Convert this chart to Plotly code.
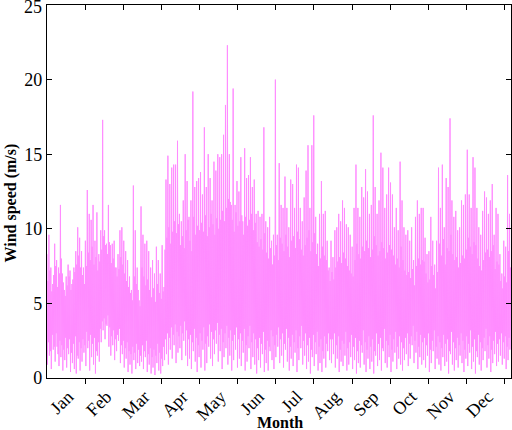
import numpy as np
import plotly.graph_objects as go

# hourly wind speed over one year left to right.
# each slot: local high, local low, top of the dense core, bottom of the core
peaks = [
    8.3, 9.6, 7.4, 6.3, 9.0, 7.9, 7.4, 11.6, 7.0, 5.9,
    6.8, 7.6, 7.2, 6.3, 7.4, 8.5, 10.1, 9.4, 8.5, 7.4,
    9.2, 12.6, 11.0, 10.6, 11.6, 9.2, 11.1, 8.3, 9.9, 17.3,
    9.9, 9.0, 11.6, 8.9, 9.0, 9.2, 7.4, 8.3, 9.9, 10.1,
    9.2, 8.5, 7.9, 6.8, 5.9, 12.9, 9.9, 7.4, 5.2,
    11.5, 9.6, 9.0, 9.2, 8.5, 7.4, 7.9, 7.0, 8.8, 7.9,
    7.0, 8.9, 6.1, 13.3, 14.9, 13.0, 14.1, 14.3, 14.3, 15.9,
    11.0, 10.5, 11.9, 15.0, 13.2, 10.8, 11.9, 19.2, 12.8, 13.2,
    13.4, 13.8, 12.3, 16.8, 12.8, 15.0, 13.4, 11.9, 14.5, 13.9,
    15.0, 14.8, 15.0, 16.3, 18.3, 22.3, 15.0, 11.6, 19.4, 11.6,
    13.2,
    12.5, 14.8, 10.5, 15.4, 13.4, 13.6, 14.8, 12.8, 13.3, 11.0,
    11.2, 10.8, 11.0, 16.8, 10.5, 10.1, 10.8, 9.2, 9.6, 20.0,
    9.6, 14.4, 11.6, 11.4, 13.5, 11.4, 10.1, 13.3, 13.0, 11.4,
    14.3, 14.1, 11.4, 10.5, 12.1, 13.9, 15.6, 11.4, 15.6, 17.6,
    10.8, 9.0, 11.0, 13.2, 11.0, 11.2, 9.2, 7.4,
    9.2, 8.1, 9.9, 10.1, 11.0, 10.5, 11.9, 11.4, 10.3, 10.1,
    9.6, 8.8, 11.4, 14.3, 11.4, 10.8, 12.8, 12.1, 14.0, 12.5,
    11.0, 11.6, 17.6, 12.8, 11.0, 11.9, 15.1, 14.1, 11.4, 12.3,
    14.1, 13.1, 12.3, 10.1, 11.4, 9.9, 14.5, 11.9, 10.1, 9.6,
    9.9, 9.2, 10.1, 7.9, 10.8, 11.9, 11.0, 11.4,
    11.4, 9.4, 8.3, 8.5, 10.8, 9.2, 7.6, 9.2, 14.1, 11.4,
    14.3, 10.1, 13.4, 12.8, 17.4, 11.9, 10.8, 11.2, 9.9, 10.1,
    11.9, 11.6, 12.3, 15.3, 12.3, 11.4, 14.8, 14.1, 11.4, 10.1,
    9.6, 11.2, 12.5, 12.1, 11.0, 11.9, 13.0, 9.6, 11.4, 11.0,
    8.3, 7.0, 9.2, 8.8, 13.6, 11.0,
]

troughs = [
    0.9, 1.5, 0.6, 1.9, 1.1, 2.1, 0.8, 1.4, 0.5, 1.2,
    0.7, 1.6, 0.4, 1.0, 0.6, 0.3, 1.3, 0.5, 1.1, 1.7,
    0.8, 2.0, 0.5, 1.4, 0.9, 0.3, 1.5, 1.1, 2.4, 3.2,
    2.6, 3.5, 2.1, 1.5, 2.2, 1.2, 1.8, 2.5, 1.0, 1.6,
    0.7, 1.3, 0.4, 0.9, 0.3, 1.2, 0.6, 1.0, 0.8,
    1.1, 0.6, 1.4, 0.4, 0.9, 0.3, 0.7, 0.2, 1.0, 0.5,
    0.3, 0.8, 1.2, 1.6, 0.9, 1.9, 1.3, 2.2, 1.0, 1.7,
    2.0, 1.2, 2.5, 1.5, 0.8, 1.3, 0.6, 1.8, 1.1, 0.4,
    1.4, 0.7, 1.9, 0.5, 1.0, 2.1, 1.3, 0.8, 1.6, 2.3,
    1.1, 1.8, 0.6, 1.4, 2.0, 0.9, 1.5, 0.5, 1.2, 1.9,
    0.7,
    1.3, 0.8, 1.7, 0.5, 1.1, 2.0, 0.6, 1.4, 0.9, 0.3,
    1.2, 0.7, 1.6, 0.4, 1.0, 0.5, 1.8, 1.2, 0.6, 1.4,
    2.1, 1.0, 1.5, 0.7, 1.9, 1.1, 0.5, 1.3, 0.8, 1.7,
    0.4, 1.2, 2.0, 0.9, 1.5, 0.6, 1.1, 0.3, 1.4, 0.8,
    1.6, 0.5, 1.0, 0.4, 1.3, 0.7, 1.8, 1.2,
    1.0, 1.6, 0.7, 1.3, 0.4, 1.1, 0.8, 1.5, 0.5, 0.9,
    1.4, 0.6, 1.2, 0.3, 1.0, 0.7, 1.7, 0.9, 0.4, 1.3,
    0.6, 1.1, 0.3, 1.5, 0.8, 1.2, 0.5, 1.8, 1.0, 0.7,
    1.4, 0.4, 1.1, 1.7, 0.6, 1.3, 0.9, 0.5, 1.2, 1.6,
    0.8, 1.3, 2.2, 1.0, 1.7, 0.6, 1.4, 0.9,
    1.2, 0.7, 1.5, 0.4, 1.0, 1.8, 0.6, 1.3, 0.9, 0.5,
    1.4, 0.8, 1.1, 0.3, 1.6, 0.9, 0.5, 1.2, 0.7, 1.5,
    1.0, 0.4, 1.3, 0.8, 1.7, 0.6, 1.1, 0.3, 1.4, 0.9,
    0.5, 1.2, 1.8, 0.7, 1.3, 0.4, 1.0, 1.6, 0.8, 1.1,
    1.5, 0.9, 1.3, 0.6, 1.2, 1.9,
]

core_tops = [
    6.5, 7.2, 5.8, 6.9, 7.5, 6.1, 7.0, 8.0, 6.4, 5.5,
    6.2, 6.8, 5.9, 6.6, 7.1, 7.6, 8.2, 7.4, 6.9, 6.3,
    7.5, 8.4, 7.9, 8.8, 7.6, 8.1, 7.2, 7.8, 8.6, 9.5,
    8.9, 8.3, 9.1, 7.7, 8.0, 7.4, 6.8, 7.3, 8.1, 7.6,
    7.0, 6.5, 6.1, 5.7, 5.2, 6.8, 6.3, 5.9, 4.8,
    7.4, 6.8, 6.2, 6.6, 5.9, 5.4, 6.0, 5.1, 6.3, 5.7,
    5.3, 5.8, 8.6, 9.4, 10.1, 9.0, 9.8, 10.5, 9.7, 10.3,
    8.9, 9.5, 8.7, 9.9, 10.6, 9.2, 8.5, 10.8, 9.6, 10.2,
    9.9, 10.4, 9.8, 10.9, 9.5, 10.1, 11.0, 10.3, 9.6, 10.7,
    10.0, 10.6, 11.2, 10.5, 11.4, 12.0, 11.8, 10.6, 9.8, 11.1,
    10.2,
    10.5, 10.9, 9.6, 10.8, 10.2, 10.6, 11.0, 9.9, 10.4, 9.1,
    8.8, 9.3, 8.6, 9.7, 8.4, 8.0, 8.7, 7.6, 8.2, 8.9,
    7.9, 9.4, 9.0, 8.5, 9.6, 8.8, 8.1, 9.2, 9.5, 8.7,
    9.8, 9.3, 8.6, 8.2, 8.9, 9.4, 9.9, 8.5, 9.1, 9.7,
    8.3, 7.5, 8.0, 8.8, 8.2, 7.9, 7.2, 6.5,
    7.1, 6.6, 7.4, 7.8, 8.1, 7.7, 8.4, 8.0, 7.5, 7.2,
    7.0, 6.8, 7.9, 9.0, 8.3, 8.0, 8.8, 8.5, 9.2, 8.7,
    8.1, 8.6, 9.5, 8.9, 8.2, 8.5, 9.1, 8.7, 8.0, 8.4,
    8.9, 8.6, 8.2, 7.6, 8.0, 7.4, 8.8, 7.9, 7.2, 6.9,
    7.1, 6.7, 7.3, 6.2, 7.5, 8.0, 7.6, 7.9,
    7.8, 7.0, 6.4, 6.6, 7.5, 6.9, 6.0, 7.1, 9.0, 8.2,
    9.3, 7.6, 8.7, 8.5, 9.6, 8.3, 7.9, 8.1, 7.4, 7.7,
    8.2, 8.0, 8.6, 9.4, 8.8, 8.3, 9.1, 8.9, 8.0, 7.5,
    7.2, 7.9, 8.4, 8.6, 8.1, 8.5, 8.9, 7.3, 7.8, 7.6,
    6.5, 6.0, 6.8, 6.4, 8.5, 7.4,
]

core_bottoms = [
    2.4, 1.8, 2.9, 2.1, 3.0, 1.6, 2.5, 2.2, 1.9, 2.7,
    2.0, 2.6, 1.7, 2.3, 2.8, 1.5, 2.4, 2.0, 2.6, 2.2,
    3.1, 2.5, 2.9, 2.3, 2.7, 1.8, 2.4, 3.3, 3.8, 4.0,
    3.6, 4.2, 3.4, 2.8, 3.2, 2.6, 2.9, 3.3, 2.2, 2.5,
    2.0, 2.4, 1.8, 1.6, 2.1, 1.7, 2.3, 1.9, 1.5,
    2.2, 1.8, 2.5, 1.6, 2.0, 1.4, 1.9, 1.5, 2.3, 1.7,
    1.3, 2.1, 2.6, 3.0, 2.7, 3.4, 2.9, 3.6, 3.1, 2.8,
    3.5, 3.0, 3.8, 3.2, 2.6, 2.9, 2.4, 3.3, 2.7, 2.2,
    3.0, 2.5, 3.4, 2.3, 2.8, 3.6, 3.1, 2.6, 3.2, 3.7,
    2.9, 3.3, 2.4, 3.0, 3.5, 2.7, 3.2, 2.5, 2.9, 3.4,
    2.6,
    3.0, 2.5, 3.3, 2.2, 2.8, 3.5, 2.4, 3.0, 2.6, 2.0,
    2.7, 2.3, 3.1, 1.9, 2.5, 2.1, 3.2, 2.8, 2.2, 2.9,
    3.4, 2.6, 3.0, 2.3, 3.3, 2.7, 2.1, 2.9, 2.4, 3.2,
    2.0, 2.8, 3.5, 2.5, 3.0, 2.2, 2.7, 1.9, 2.9, 2.4,
    3.1, 2.1, 2.6, 1.8, 2.8, 2.3, 3.0, 2.6,
    2.6, 3.0, 2.2, 2.8, 1.9, 2.5, 2.3, 3.1, 2.0, 2.4,
    2.9, 2.1, 2.7, 1.8, 2.5, 2.2, 3.2, 2.4, 1.9, 2.8,
    2.1, 2.6, 1.8, 3.0, 2.3, 2.7, 2.0, 3.3, 2.5, 2.2,
    2.9, 1.9, 2.6, 3.1, 2.1, 2.8, 2.4, 2.0, 2.7, 3.0,
    2.3, 2.8, 3.5, 2.5, 3.1, 2.1, 2.9, 2.4,
    2.7, 2.2, 3.0, 1.9, 2.5, 3.2, 2.1, 2.8, 2.4, 2.0,
    2.9, 2.3, 2.6, 1.8, 3.1, 2.4, 2.0, 2.7, 2.2, 3.0,
    2.5, 1.9, 2.8, 2.3, 3.2, 2.1, 2.6, 1.8, 2.9, 2.4,
    2.0, 2.7, 3.3, 2.2, 2.8, 1.9, 2.5, 3.1, 2.3, 2.6,
    3.0, 2.4, 2.8, 2.1, 2.7, 3.2,
]

months = ['Jan', 'Feb', 'Mar', 'Apr', 'May', 'Jun',
          'Jul', 'Aug', 'Sep', 'Oct', 'Nov', 'Dec']
y_ticks = [0, 5, 10, 15, 20, 25]
month_hours = 720
year_hours = 8760

speed = []
for p, t, c, b in zip(peaks, troughs, core_tops, core_bottoms):
    speed += [p, t, c, b]
hours = np.linspace(0, year_hours - 1, len(speed))

font = 'Liberation Serif, Times New Roman, serif'
pink = '#ff8cff'

fig = go.Figure()
fig.add_trace(go.Scatter(
    x=hours, y=speed, mode='lines',
    line=dict(color=pink, width=1),
    showlegend=False, hoverinfo='skip'
))
# empty trace so the top axis (ticks only) gets drawn
fig.add_trace(go.Scatter(x=[None], y=[None], xaxis='x2', showlegend=False))

edges = [month_hours * k for k in range(1, 13)]
# rotated labels end a little right of the month middle
label_pos = [month_hours * k + 400 for k in range(12)]

# plotly drops the top label (it sits on the page edge), so it is written as an annotation
y_text = [str(v) for v in y_ticks[:-1]] + ['']

fig.update_layout(
    width=512, height=430,
    margin=dict(l=47, r=1, t=5, b=52),
    paper_bgcolor='white', plot_bgcolor='white',
    font=dict(family=font, size=18, color='black'),
    xaxis=dict(
        range=[0, year_hours], automargin=False,
        tickmode='array', tickvals=label_pos, ticktext=months,
        ticks='', tickangle=-45,
        tickfont=dict(family=font, size=18),
        minor=dict(tickmode='array', tickvals=edges, ticks='outside',
                   ticklen=5, tickwidth=1.2, tickcolor='black'),
        showline=True, linecolor='black', linewidth=1.2, mirror=True,
        showgrid=False, zeroline=False,
    ),
    xaxis2=dict(
        range=[0, year_hours], overlaying='x', side='top', anchor='y',
        automargin=False,
        tickmode='array', tickvals=edges, ticks='inside', ticklen=5,
        tickwidth=1.2, tickcolor='black', showticklabels=False,
        showline=False, showgrid=False, zeroline=False,
    ),
    yaxis=dict(
        range=[0, 25], automargin=False,
        tickmode='array', tickvals=y_ticks, ticktext=y_text,
        ticks='inside', ticklen=5, tickwidth=1.2, tickcolor='black',
        tickfont=dict(family=font, size=18),
        showline=True, linecolor='black', linewidth=1.2, mirror='ticks',
        showgrid=False, zeroline=False,
    ),
    annotations=[
        dict(text=str(y_ticks[-1]), xref='paper', yref='y',
             x=0, y=y_ticks[-1], xanchor='right', yanchor='middle',
             xshift=-3, yshift=-2, showarrow=False,
             font=dict(family=font, size=18)),
        dict(text='<b>Month</b>', xref='paper', yref='paper',
             x=0.502, y=-0.12, xanchor='center', yanchor='middle',
             showarrow=False, font=dict(family=font, size=16)),
        dict(text='<b>Wind speed (m/s)</b>', xref='paper', yref='paper',
             x=-0.078, y=0.47, xanchor='center', yanchor='middle',
             textangle=-90, showarrow=False, font=dict(family=font, size=16)),
    ],
)

# drop the page's default body margin so the 512x430 figure fills the window
fix_page = (
    "document.body.style.margin='0';"
    "document.body.style.overflow='hidden';"
    "Plotly.relayout(document.getElementById('{plot_id}'),"
    "{width: 512, height: 430});"
)
fig.write_html('out.html', post_script=fix_page,
               config={'displayModeBar': False})
